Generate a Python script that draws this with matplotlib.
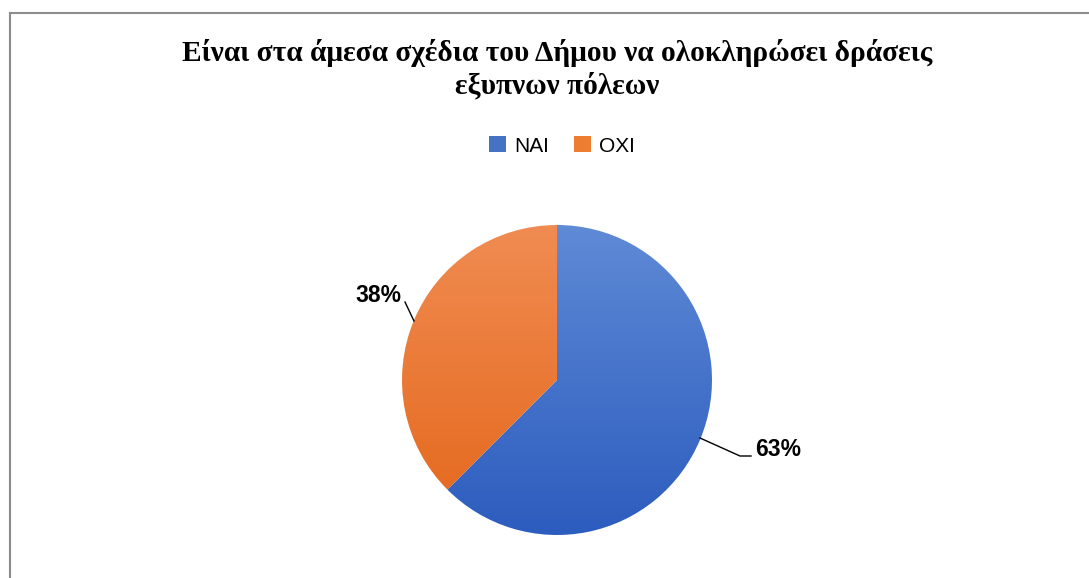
import numpy as np
import matplotlib
matplotlib.use("Agg")
import matplotlib.pyplot as plt
from matplotlib.patches import Patch
from matplotlib.lines import Line2D

# data
labels = ["NAI", "OXI"]
shares = [62.5, 37.5]
pct_text = ["63%", "38%"]
title = "Είναι στα άμεσα σχέδια του Δήμου να ολοκληρώσει δράσεις\nεξυπνων πόλεων"

# colours (top of gradient, bottom of gradient)
grad = [("#5F8AD6", "#2C5CBE"), ("#F08C52", "#E4661A")]
solid = ["#4472C4", "#ED7D31"]

W, H = 1089, 578
fig = plt.figure(figsize=(W / 100, H / 100), dpi=100)
ax = fig.add_axes([0, 0, 1, 1])

cx, cy, r = 557, H - 380, 155
wedges, _ = ax.pie(shares, startangle=90, counterclock=False,
                   center=(cx, cy), radius=r, frame=True)
ax.set_xlim(0, W)
ax.set_ylim(0, H)
ax.set_aspect("equal")
ax.axis("off")

# vertical gradient fill for each slice
for w, (c_top, c_bot) in zip(wedges, grad):
    w.set_facecolor("none")
    w.set_edgecolor("none")
    t = np.linspace(0, 1, 256)[:, None]
    top = np.array(matplotlib.colors.to_rgb(c_top))
    bot = np.array(matplotlib.colors.to_rgb(c_bot))
    img = (1 - t)[..., None] * top + t[..., None] * bot
    img = np.repeat(img, 2, axis=1)
    im = ax.imshow(img, extent=(cx - r, cx + r, cy - r, cy + r),
                   origin="upper", aspect="auto", zorder=1)
    im.set_clip_path(w)

# data labels with leader lines
ax.plot([700, 740, 751], [H - 438, H - 456, H - 456], color="black", lw=1)
ax.text(755, H - 450, pct_text[0], fontsize=16.5, fontweight="bold",
        family="Liberation Sans", ha="left", va="center")
ax.plot([414, 405], [H - 321, H - 302], color="black", lw=1)
ax.text(401, H - 296, pct_text[1], fontsize=16.5, fontweight="bold",
        family="Liberation Sans", ha="right", va="center")

# title
fig.text(557 / W, 1 - 69 / H, title, ha="center", va="center",
         fontsize=21.2, fontweight="bold", family="Liberation Serif",
         linespacing=1.25)

# legend
handles = [Patch(facecolor=c, edgecolor="none") for c in solid]
fig.legend(handles, labels, loc="center", bbox_to_anchor=(562 / W, 1 - 146 / H),
           ncol=2, frameon=False, handlelength=0.8, handleheight=0.8,
           handletextpad=0.4, columnspacing=1.2,
           prop={"family": "Liberation Sans", "size": 15})

# chart border (left and top visible)
fig.add_artist(Line2D([10 / W, 10 / W], [0, 1 - 13 / H], color="#8C8C8C", lw=1.5,
                      transform=fig.transFigure))
fig.add_artist(Line2D([10 / W, 1], [1 - 13 / H, 1 - 13 / H], color="#8C8C8C", lw=1.5,
                      transform=fig.transFigure))

fig.savefig("out.png", dpi=100)
